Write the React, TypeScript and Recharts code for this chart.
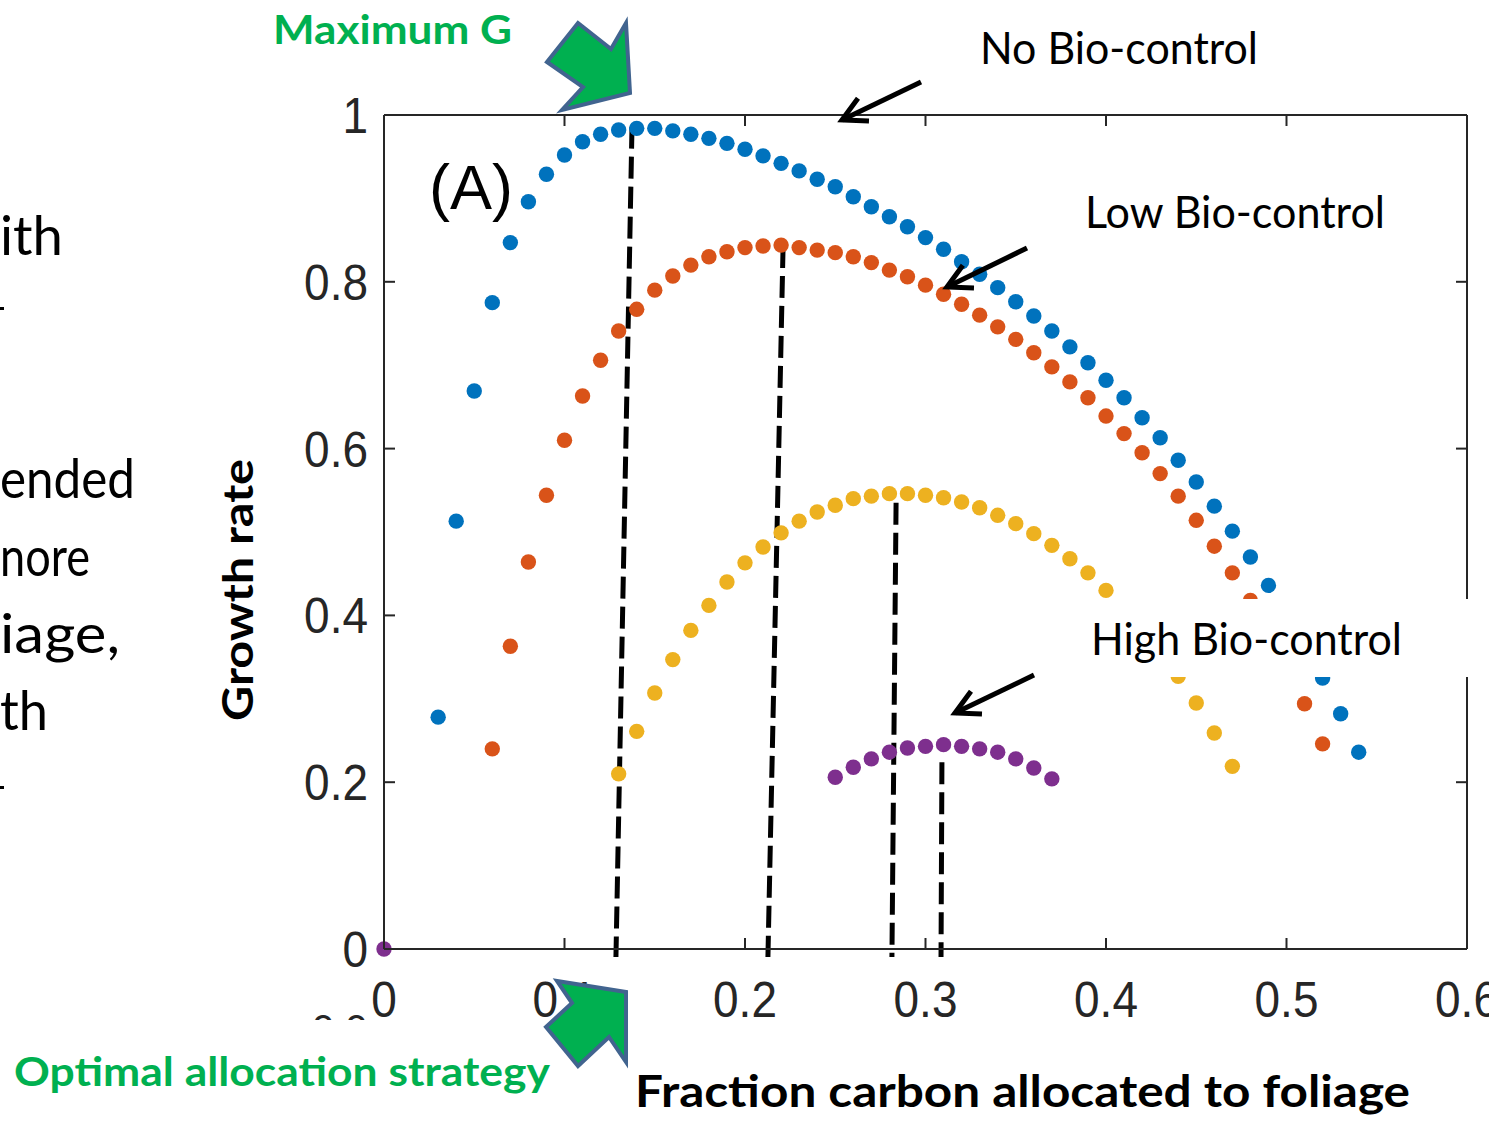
import React from 'react';
import { ScatterChart, Scatter, XAxis, YAxis, ReferenceLine } from 'recharts';

const W = 1489;
const H = 1125;
const PLOT_TOP = 115;
const PLOT_RIGHT = 1467;

// Fraction of carbon allocated to foliage (x) vs growth rate (y)
const noBioX = [
  0.03, 0.04, 0.05, 0.06, 0.07, 0.08, 0.09, 0.1, 0.11, 0.12, 0.13, 0.14, 0.15, 0.16, 0.17, 0.18,
  0.19, 0.2, 0.21, 0.22, 0.23, 0.24, 0.25, 0.26, 0.27, 0.28, 0.29, 0.3, 0.31, 0.32, 0.33, 0.34,
  0.35, 0.36, 0.37, 0.38, 0.39, 0.4, 0.41, 0.42, 0.43, 0.44, 0.45, 0.46, 0.47, 0.48, 0.49,
  0.52, 0.53, 0.54,
];
const noBioY = [
  0.278, 0.513, 0.669, 0.775, 0.847, 0.896, 0.929, 0.952, 0.968, 0.977, 0.982, 0.984, 0.984, 0.981, 0.977, 0.972,
  0.966, 0.959, 0.951, 0.942, 0.933, 0.923, 0.914, 0.902, 0.89, 0.878, 0.866, 0.853, 0.839, 0.824, 0.809, 0.793,
  0.776, 0.759, 0.741, 0.722, 0.703, 0.682, 0.661, 0.637, 0.613, 0.586, 0.56, 0.531, 0.501, 0.47, 0.436,
  0.325, 0.282, 0.236,
];

const lowBioX = [
  0.06, 0.07, 0.08, 0.09, 0.1, 0.11, 0.12, 0.13, 0.14, 0.15, 0.16, 0.17, 0.18, 0.19, 0.2, 0.21,
  0.22, 0.23, 0.24, 0.25, 0.26, 0.27, 0.28, 0.29, 0.3, 0.31, 0.32, 0.33, 0.34, 0.35, 0.36, 0.37,
  0.38, 0.39, 0.4, 0.41, 0.42, 0.43, 0.44, 0.45, 0.46, 0.47, 0.48,
  0.51, 0.52,
];
const lowBioY = [
  0.24, 0.363, 0.464, 0.544, 0.61, 0.663, 0.706, 0.741, 0.767, 0.79, 0.807, 0.82, 0.83, 0.836, 0.841, 0.843,
  0.844, 0.841, 0.838, 0.835, 0.83, 0.823, 0.814, 0.806, 0.796, 0.785, 0.773, 0.76, 0.746, 0.731, 0.715, 0.698,
  0.68, 0.661, 0.639, 0.618, 0.595, 0.57, 0.543, 0.514, 0.483, 0.451, 0.418,
  0.294, 0.246,
];

const midBioX = [
  0.13, 0.14, 0.15, 0.16, 0.17, 0.18, 0.19, 0.2, 0.21, 0.22, 0.23, 0.24, 0.25, 0.26, 0.27, 0.28,
  0.29, 0.3, 0.31, 0.32, 0.33, 0.34, 0.35, 0.36, 0.37, 0.38, 0.39, 0.4,
  0.44, 0.45, 0.46, 0.47,
];
const midBioY = [
  0.21, 0.261, 0.307, 0.347, 0.382, 0.412, 0.44, 0.463, 0.482, 0.499, 0.513, 0.524, 0.532, 0.54, 0.543, 0.546,
  0.546, 0.544, 0.541, 0.536, 0.529, 0.52, 0.51, 0.498, 0.484, 0.468, 0.451, 0.43,
  0.327, 0.295, 0.259, 0.219,
];

const highBioX = [0, 0.25, 0.26, 0.27, 0.28, 0.29, 0.3, 0.31, 0.32, 0.33, 0.34, 0.35, 0.36, 0.37];
const highBioY = [0, 0.206, 0.218, 0.228, 0.236, 0.241, 0.243, 0.245, 0.243, 0.24, 0.236, 0.228, 0.217, 0.204];

// dashed optimum markers (hand drawn, slightly slanted)
const optTopX = [0.1374, 0.2211, 0.2837, 0.3091];
const optTopY = [0.986, 0.843, 0.535, 0.224];
const optBottomX = [0.1285, 0.2127, 0.2814, 0.3086];
const optBottomY = [-0.0096, -0.0096, -0.0096, -0.0096];

const xTicks = [0, 0.1, 0.2, 0.3, 0.4, 0.5, 0.6];
const yTicks = [0, 0.2, 0.4, 0.6, 0.8, 1];

const zip = (xs: number[], ys: number[]) => xs.map((x, i) => ({ x, y: ys[i] }));

const AXIS = '#262626';
const TICK_FONT = "'Liberation Sans', Arial, sans-serif";
const NOTE_FONT = "Lato, 'Open Sans', sans-serif";

const dot = (color: string) => (props: any) => (
  <circle cx={props.cx} cy={props.cy} r={7.7} fill={color} />
);

// bottom tick: inward marks on bottom and top frame + label
const BottomTick = (props: any) => {
  const { x, y, payload } = props;
  return (
    <g>
      <line x1={x} y1={y} x2={x} y2={y - 11} stroke={AXIS} strokeWidth={2} />
      <line x1={x} y1={PLOT_TOP} x2={x} y2={PLOT_TOP + 11} stroke={AXIS} strokeWidth={2} />
      <text transform={`translate(${x},${y + 68}) scale(0.92,1)`} textAnchor="middle" fontSize={50} fontFamily={TICK_FONT} fill={AXIS}>
        {String(payload.value)}
      </text>
    </g>
  );
};

// left tick: inward marks on left and right frame + label
const LeftTick = (props: any) => {
  const { x, y, payload } = props;
  return (
    <g>
      <line x1={x} y1={y} x2={x + 11} y2={y} stroke={AXIS} strokeWidth={2} />
      <line x1={PLOT_RIGHT} y1={y} x2={PLOT_RIGHT - 11} y2={y} stroke={AXIS} strokeWidth={2} />
      <text transform={`translate(${x - 16},${y + 18}) scale(0.92,1)`} textAnchor="end" fontSize={50} fontFamily={TICK_FONT} fill={AXIS}>
        {String(payload.value)}
      </text>
    </g>
  );
};

const NoTick = () => <g />;

function Arrow({ x1, y1, x2, y2 }: { x1: number; y1: number; x2: number; y2: number }) {
  const ang = Math.atan2(y1 - y2, x1 - x2);
  const L = 27;
  const a = (28 * Math.PI) / 180;
  const b1 = `${x2 + L * Math.cos(ang + a)},${y2 + L * Math.sin(ang + a)}`;
  const b2 = `${x2 + L * Math.cos(ang - a)},${y2 + L * Math.sin(ang - a)}`;
  return (
    <g stroke="#000" strokeWidth={5} fill="none">
      <line x1={x1} y1={y1} x2={x2} y2={y2} />
      <polyline points={`${b1} ${x2},${y2} ${b2}`} strokeLinejoin="miter" />
    </g>
  );
}

export default function App() {
  return (
    <div style={{ position: 'absolute', left: 0, top: 0, width: W, height: H, background: '#fff', overflow: 'hidden' }}>
      <ScatterChart width={W} height={H} margin={{ top: 85, right: 2, bottom: 146, left: 324 }}>
        <XAxis dataKey="x" type="number" domain={[0, 0.6]} ticks={xTicks} height={30}
          axisLine={{ stroke: AXIS, strokeWidth: 2 }} tickLine={false} tickSize={0} tickMargin={0} tick={<BottomTick />} />
        <XAxis xAxisId="top" orientation="top" type="number" domain={[0, 0.6]} ticks={xTicks} height={30}
          axisLine={{ stroke: AXIS, strokeWidth: 2 }} tickLine={false} tick={<NoTick />} />
        <YAxis dataKey="y" type="number" domain={[0, 1]} ticks={yTicks} width={60}
          axisLine={{ stroke: AXIS, strokeWidth: 2 }} tickLine={false} tickSize={0} tickMargin={0} tick={<LeftTick />} />
        <YAxis yAxisId="right" orientation="right" type="number" domain={[0, 1]} ticks={yTicks} width={20}
          axisLine={{ stroke: AXIS, strokeWidth: 2 }} tickLine={false} tick={<NoTick />} />
        <Scatter data={zip(noBioX, noBioY)} shape={dot('#0072BD')} isAnimationActive={false} />
        <Scatter data={zip(lowBioX, lowBioY)} shape={dot('#D95319')} isAnimationActive={false} />
        <Scatter data={zip(midBioX, midBioY)} shape={dot('#EDB120')} isAnimationActive={false} />
        <Scatter data={zip(highBioX, highBioY)} shape={dot('#7E2F8E')} isAnimationActive={false} />
        {optTopX.map((tx, i) => (
          <ReferenceLine key={i} ifOverflow="visible"
            segment={[{ x: tx, y: optTopY[i] }, { x: optBottomX[i], y: optBottomY[i] }]}
            stroke="#000" strokeWidth={5} strokeDasharray="22 8" />
        ))}
      </ScatterChart>

      <svg width={W} height={H} style={{ position: 'absolute', left: 0, top: 0, pointerEvents: 'none' }}>
        <defs>
          <clipPath id="cutTop">
            <rect x={0} y={0} width={W} height={1020} />
          </clipPath>
        </defs>

        {/* fragments of neighbouring slide text */}
        <g fontFamily={NOTE_FONT} fontSize={54} fill="#000">
          <text x={0} y={255} textLength={63} lengthAdjust="spacingAndGlyphs">ith</text>
          <text x={0} y={498} textLength={135} lengthAdjust="spacingAndGlyphs">ended</text>
          <text x={0} y={576} textLength={90} lengthAdjust="spacingAndGlyphs">nore</text>
          <text x={0} y={653} textLength={120} lengthAdjust="spacingAndGlyphs">iage,</text>
          <text x={0} y={730} textLength={48} lengthAdjust="spacingAndGlyphs">th</text>
        </g>
        <rect x={0} y={307} width={4} height={3} fill="#000" />
        <rect x={0} y={786} width={4} height={3} fill="#000" />

        <text x={312} y={1043} fontSize={40} fontFamily={TICK_FONT} fill={AXIS} clipPath="url(#cutTop)">0.0</text>

        {/* axis titles */}
        <text transform="translate(253,590) rotate(-90)" textAnchor="middle" fontSize={42} fontWeight={700}
          fontFamily={NOTE_FONT} fill="#000" textLength={262} lengthAdjust="spacingAndGlyphs">Growth rate</text>
        <text x={635} y={1107} fontSize={44} fontWeight={700} fontFamily={NOTE_FONT} fill="#000"
          textLength={775} lengthAdjust="spacingAndGlyphs">Fraction carbon allocated to foliage</text>

        <text x={429} y={209} fontSize={63} fontFamily={TICK_FONT} fill="#000">(A)</text>

        {/* labels */}
        <g fontFamily={NOTE_FONT} fontSize={44} fill="#000">
          <text x={980} y={64} textLength={278} lengthAdjust="spacingAndGlyphs">No Bio-control</text>
          <text x={1085} y={228} textLength={300} lengthAdjust="spacingAndGlyphs">Low Bio-control</text>
        </g>
        <rect x={1080} y={599} width={W - 1080} height={78} fill="#fff" />
        <text x={1091} y={655} fontFamily={NOTE_FONT} fontSize={44} fill="#000" textLength={311} lengthAdjust="spacingAndGlyphs">High Bio-control</text>

        <Arrow x1={921} y1={82} x2={842} y2={120} />
        <Arrow x1={1027} y1={248} x2={947} y2={287} />
        <Arrow x1={1034} y1={675} x2={955} y2={713} />

        {/* green callouts */}
        <text x={273} y={44} fontFamily={NOTE_FONT} fontSize={40} fontWeight={700} fill="#00B050"
          textLength={239} lengthAdjust="spacingAndGlyphs">Maximum G</text>
        <polygon points="547,62 578,23 611,49 626,23 630,93 562,110 583,87" fill="#00B050" stroke="#41648F" strokeWidth={4} strokeLinejoin="miter" />

        <text x={14} y={1086} fontFamily={NOTE_FONT} fontSize={40} fontWeight={700} fill="#00B050"
          textLength={536} lengthAdjust="spacingAndGlyphs">Optimal allocation strategy</text>
        <polygon points="546,1027 572,1003 557,981 626,992 626,1062 609,1037 578,1066" fill="#00B050" stroke="#41648F" strokeWidth={4} strokeLinejoin="miter" />
      </svg>
    </div>
  );
}
